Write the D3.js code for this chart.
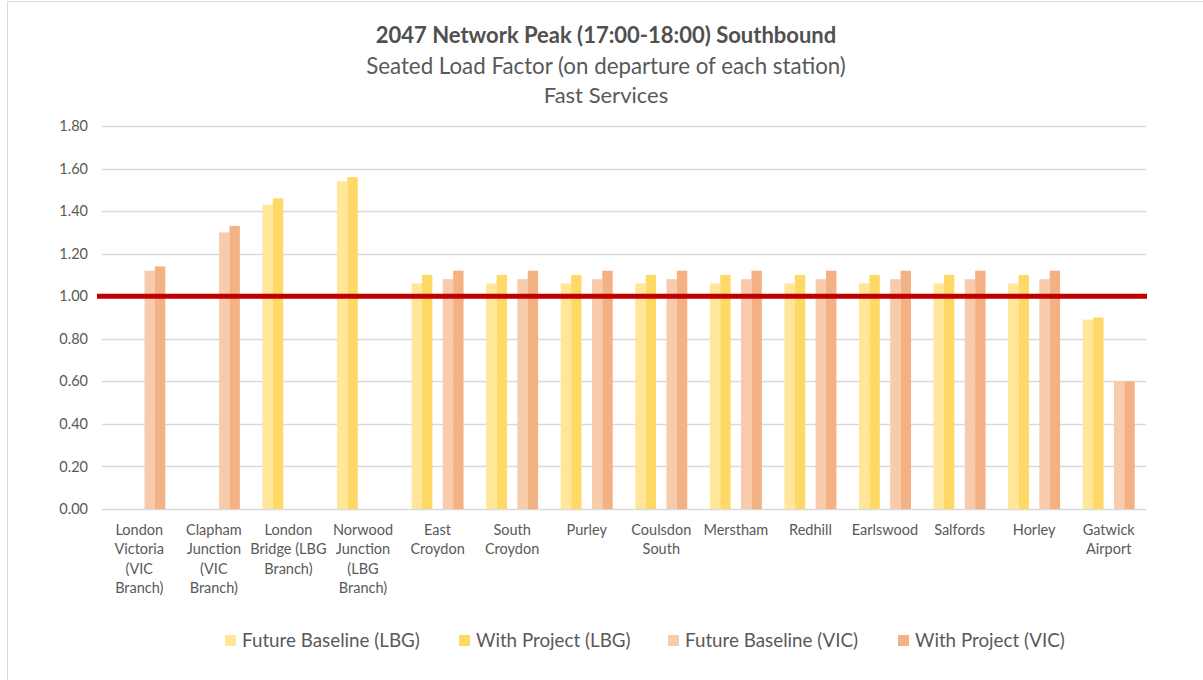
<!DOCTYPE html>
<html><head><meta charset="utf-8">
<script src="https://cdn.jsdelivr.net/npm/d3@7"></script>
<style>
html,body{margin:0;padding:0;background:#fff;}
svg{display:block;font-family:Lato,"Open Sans",sans-serif;}
</style></head>
<body>
<svg id="chart" width="1203" height="680"></svg>
<script>
const categories = ["London\nVictoria\n(VIC\nBranch)","Clapham\nJunction\n(VIC\nBranch)","London\nBridge (LBG\nBranch)","Norwood\nJunction\n(LBG\nBranch)","East\nCroydon","South\nCroydon","Purley","Coulsdon\nSouth","Merstham","Redhill","Earlswood","Salfords","Horley","Gatwick\nAirport"];
const futureBaselineLBG = [null,null,1.43,1.54,1.06,1.06,1.06,1.06,1.06,1.06,1.06,1.06,1.06,0.89];
const withProjectLBG    = [null,null,1.46,1.56,1.10,1.10,1.10,1.10,1.10,1.10,1.10,1.10,1.10,0.90];
const futureBaselineVIC = [1.12,1.30,null,null,1.08,1.08,1.08,1.08,1.08,1.08,1.08,1.08,1.08,0.60];
const withProjectVIC    = [1.14,1.33,null,null,1.12,1.12,1.12,1.12,1.12,1.12,1.12,1.12,1.12,0.60];
const seriesNames = ["Future Baseline (LBG)","With Project (LBG)","Future Baseline (VIC)","With Project (VIC)"];
const yTicks = [0,0.2,0.4,0.6,0.8,1.0,1.2,1.4,1.6,1.8];
const threshold = 1.0;
const titleLines = ["2047 Network Peak (17:00-18:00) Southbound","Seated Load Factor (on departure of each station)","Fast Services"];

const colors = ["#FFE699","#FFD966","#F8CBAD","#F4B183"];
const seriesData = [futureBaselineLBG, withProjectLBG, futureBaselineVIC, withProjectVIC];
const slotOf = [0,1,3,4]; // slot 2 is an empty spacer slot

const svg = d3.select("#chart");
const textColor = "#595959";

// chart border
svg.append("rect").attr("x",7.5).attr("y",1.5).attr("width",1210).attr("height",690)
  .attr("fill","none").attr("stroke","#D9D9D9").attr("stroke-width",1);

// titles
svg.append("text").attr("x",606).attr("y",43).attr("text-anchor","middle")
  .attr("font-size",22).attr("font-weight","bold").attr("fill","#505050").text(titleLines[0]);
svg.append("text").attr("x",606).attr("y",73.5).attr("text-anchor","middle")
  .attr("font-size",22.3).attr("fill",textColor).text(titleLines[1]);
svg.append("text").attr("x",606).attr("y",102.5).attr("text-anchor","middle")
  .attr("font-size",22).attr("fill",textColor).text(titleLines[2]);

const plotLeft=102, plotRight=1146, plotTop=126, plotBottom=509;
const y = d3.scaleLinear().domain([0,1.8]).range([plotBottom,plotTop]);
const x0 = d3.scaleBand().domain(categories).range([plotLeft,plotRight]).paddingInner(0.303).paddingOuter(0.1515);
const x1 = d3.scaleBand().domain(d3.range(5)).range([0,x0.bandwidth()]).padding(0);

// gridlines
svg.append("g").selectAll("line").data(yTicks).join("line")
  .attr("x1",plotLeft).attr("x2",plotRight)
  .attr("y1",d=>Math.round(y(d))+0.5).attr("y2",d=>Math.round(y(d))+0.5)
  .attr("stroke","#D9D9D9").attr("stroke-width",1.3);

// y axis labels
const yAxis = d3.axisLeft(y).tickValues(yTicks).tickFormat(d3.format(".2f")).tickSize(0).tickPadding(14);
const ya = svg.append("g").attr("transform",`translate(${plotLeft},0)`).call(yAxis);
ya.select(".domain").remove();
ya.selectAll("text").attr("font-size",14.5).attr("fill",textColor).attr("font-family","Lato,sans-serif");

// bars
const barsG = svg.append("g");
seriesData.forEach((vals,si)=>{
  barsG.append("g").selectAll("rect").data(vals.map((v,i)=>({v,c:categories[i]})).filter(d=>d.v!=null))
    .join("rect")
    .attr("x",d=>x0(d.c)+x1(slotOf[si]))
    .attr("width",x1.bandwidth())
    .attr("y",d=>y(d.v))
    .attr("height",d=>y(0)-y(d.v))
    .attr("fill",colors[si]);
});

// threshold line
svg.append("line").attr("x1",97).attr("x2",1147)
  .attr("y1",y(threshold)).attr("y2",y(threshold))
  .attr("stroke","#C00000").attr("stroke-width",5);

// x axis labels
const xa = svg.append("g");
categories.forEach(c=>{
  const lines = c.split("\n");
  const cx = x0(c)+x0.bandwidth()/2;
  const t = xa.append("text").attr("text-anchor","middle")
    .attr("x",cx).attr("y",535)
    .attr("font-size",14.5).attr("fill",textColor);
  lines.forEach((l,i)=>t.append("tspan").attr("x",cx).attr("dy",i===0?0:19.3).text(l));
});

// legend
const legendX = [225,459,668,898];
const lg = svg.append("g");
seriesNames.forEach((n,i)=>{
  lg.append("rect").attr("x",legendX[i]).attr("y",635).attr("width",11).attr("height",11).attr("fill",colors[i]);
  lg.append("text").attr("x",legendX[i]+17).attr("y",646.5).attr("font-size",18.8).attr("fill",textColor).text(n);
});
</script>
</body></html>
